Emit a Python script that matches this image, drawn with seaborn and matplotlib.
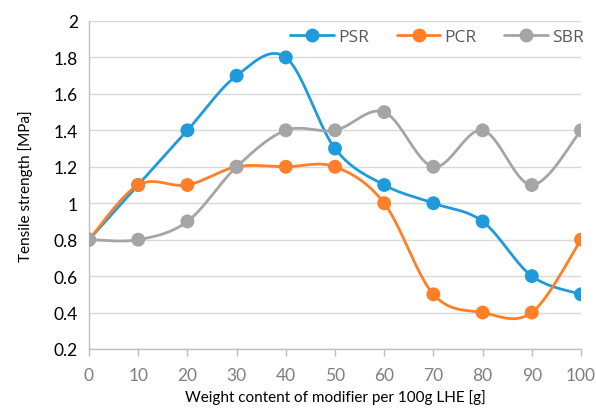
import numpy as np
import pandas as pd
import matplotlib
matplotlib.use("Agg")
import matplotlib.pyplot as plt
from matplotlib.lines import Line2D
import seaborn as sns

x_values = [0, 10, 20, 30, 40, 50, 60, 70, 80, 90, 100]
psr = [0.8, 1.1, 1.4, 1.7, 1.8, 1.3, 1.1, 1.0, 0.9, 0.6, 0.5]
pcr = [0.8, 1.1, 1.1, 1.2, 1.2, 1.2, 1.0, 0.5, 0.4, 0.4, 0.8]
sbr = [0.8, 0.8, 0.9, 1.2, 1.4, 1.4, 1.5, 1.2, 1.4, 1.1, 1.4]
series_names = ["PSR", "PCR", "SBR"]
colors = {"PSR": "#1F9BDB", "PCR": "#FF7F27", "SBR": "#A5A5A5"}
y_ticks = [0.2, 0.4, 0.6, 0.8, 1.0, 1.2, 1.4, 1.6, 1.8, 2.0]
y_tick_labels = ["0.2", "0.4", "0.6", "0.8", "1", "1.2", "1.4", "1.6", "1.8", "2"]
x_ticks = x_values


def smooth_curve(xs, ys, n=40, t=1.0 / 6.0):
    """Excel-like smoothed line: cubic Bezier with Catmull-Rom control points."""
    xs = np.asarray(xs, float)
    ys = np.asarray(ys, float)
    px, py = [], []
    m = len(xs)
    for i in range(m - 1):
        x0, y0 = (xs[i - 1], ys[i - 1]) if i > 0 else (xs[i], ys[i])
        x1, y1 = xs[i], ys[i]
        x2, y2 = xs[i + 1], ys[i + 1]
        x3, y3 = (xs[i + 2], ys[i + 2]) if i + 2 < m else (xs[i + 1], ys[i + 1])
        c1x, c1y = x1 + (x2 - x0) * t, y1 + (y2 - y0) * t
        c2x, c2y = x2 - (x3 - x1) * t, y2 - (y3 - y1) * t
        s = np.linspace(0, 1, n, endpoint=(i == m - 2))
        bx = (1 - s) ** 3 * x1 + 3 * (1 - s) ** 2 * s * c1x + 3 * (1 - s) * s ** 2 * c2x + s ** 3 * x2
        by = (1 - s) ** 3 * y1 + 3 * (1 - s) ** 2 * s * c1y + 3 * (1 - s) * s ** 2 * c2y + s ** 3 * y2
        px.extend(bx)
        py.extend(by)
    return np.array(px), np.array(py)


points = pd.DataFrame({
    "x": x_values * 3,
    "value": psr + pcr + sbr,
    "series": sum([[s] * len(x_values) for s in series_names], []),
})

curves = []
for name, vals in zip(series_names, [psr, pcr, sbr]):
    cx, cy = smooth_curve(x_values, vals)
    curves.append(pd.DataFrame({"x": cx, "value": cy, "series": name, "order": np.arange(len(cx))}))
curves = pd.concat(curves, ignore_index=True)

sns.set_theme(style="white")
plt.rcParams["font.family"] = ["Lato", "DejaVu Sans"]

fig = plt.figure(figsize=(5.96, 4.10), dpi=100)
ax = fig.add_axes([89 / 596, 1 - 350 / 410, (581 - 89) / 596, (350 - 22) / 410])

for name in series_names:
    sub = curves[curves["series"] == name]
    sns.lineplot(data=sub, x="x", y="value", sort=False, color=colors[name],
                 linewidth=2.0, ax=ax, legend=False, zorder=3)
sns.scatterplot(data=points, x="x", y="value", hue="series", palette=colors,
                s=100, edgecolor="none", ax=ax, legend=False, zorder=4)

ax.set_xlim(0, 100)
ax.set_ylim(0.2, 2.0)
ax.set_yticks(y_ticks)
ax.set_yticklabels(y_tick_labels)
ax.set_xticks(x_ticks)
ax.yaxis.grid(True, color="#D9D9D9", linewidth=1.0)
ax.xaxis.grid(False)
ax.set_axisbelow(True)

for side in ["top", "right"]:
    ax.spines[side].set_visible(False)
ax.spines["left"].set_color("#BFBFBF")
ax.spines["bottom"].set_color("#BFBFBF")
ax.spines["left"].set_linewidth(1.0)
ax.spines["bottom"].set_linewidth(1.0)

ax.tick_params(axis="y", length=0, labelsize=12.5, labelcolor="black", pad=8)
ax.tick_params(axis="x", bottom=True, length=5, width=1.0, color="#BFBFBF",
               labelsize=12.5, labelcolor="#7F7F7F", pad=8)

ax.set_xlabel("Weight content of modifier per 100g LHE [g]", fontsize=11, color="black", labelpad=4)
ax.set_ylabel("Tensile strength [MPa]", fontsize=11, color="black", labelpad=15)

handles = [Line2D([0], [0], color=colors[n], linewidth=2.0, marker="o", markersize=9) for n in series_names]
leg = ax.legend(handles, series_names, loc="center right", bbox_to_anchor=(1.006, 0.951), ncol=3,
                frameon=False, fontsize=12.5, handlelength=2.5, columnspacing=1.6,
                handletextpad=0.25, borderpad=0.0, borderaxespad=0.0)
for txt in leg.get_texts():
    txt.set_color("#595959")
    txt.set_fontfamily(["Open Sans", "DejaVu Sans"])

fig.savefig("out.png", dpi=100, facecolor="white")
